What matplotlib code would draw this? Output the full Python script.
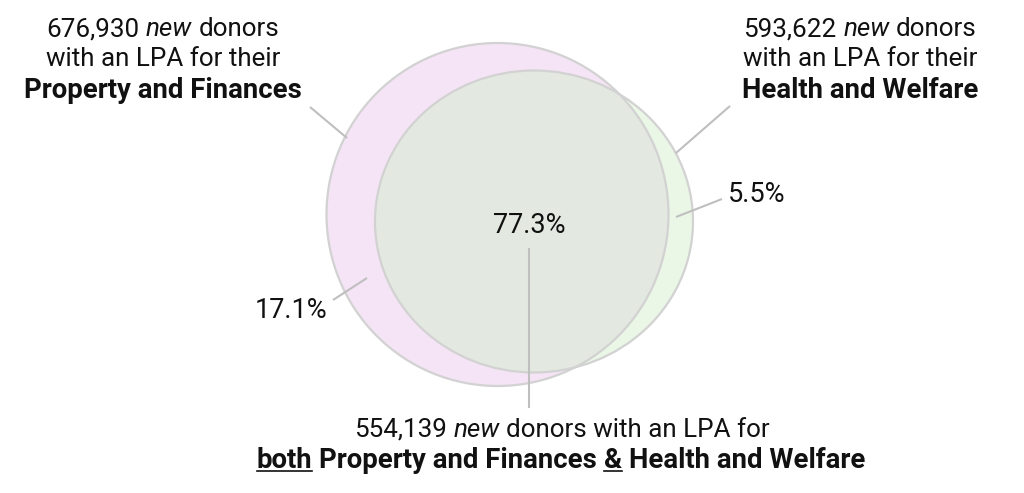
import matplotlib
matplotlib.use('Agg')
import matplotlib.pyplot as plt
from matplotlib.patches import Ellipse

# ---- data ----
set_names = ["Property and Finances", "Health and Welfare"]
set_totals = [676930, 593622]
both_total = 554139
pct_pf_only = 17.1
pct_both = 77.3
pct_hw_only = 5.5

W, H = 1024, 493
fig = plt.figure(figsize=(W / 100, H / 100), dpi=100)
ax = fig.add_axes([0, 0, 1, 1])
ax.set_xlim(0, W)
ax.set_ylim(H, 0)
ax.axis('off')

FONT = ['Roboto', 'DejaVu Sans']
FS_N = 18.7
FS_B = 19.8
FS_P = 19.5
TXT = '#111111'
LEAD = '#bfbfbf'
EDGE = '#d2d2d2'

# ---- circles ----
pf_c, pf_w, pf_h = (497.5, 214.5), 342, 343
hw_c, hw_w, hw_h = (534, 221.5), 318, 302
pf = Ellipse(pf_c, pf_w, pf_h, fc='#f5e4f5', ec='none', zorder=1)
ax.add_patch(pf)
hw = Ellipse(hw_c, hw_w, hw_h, fc='#eaf7e6', ec='none', zorder=2)
ax.add_patch(hw)
ov = Ellipse(hw_c, hw_w, hw_h, fc='#e3e9e0', ec='none', zorder=3)
ax.add_patch(ov)
ov.set_clip_path(pf)
ax.add_patch(Ellipse(pf_c, pf_w, pf_h, fill=False, ec=EDGE, lw=1.6, zorder=4))
ax.add_patch(Ellipse(hw_c, hw_w, hw_h, fill=False, ec=EDGE, lw=1.6, zorder=4))

# ---- leader lines ----
def lead(x0, y0, x1, y1):
    ax.plot([x0, x1], [y0, y1], color=LEAD, lw=1.5, solid_capstyle='butt', zorder=5)

lead(310, 107, 347, 138)
lead(730, 106, 676, 153)
lead(722, 199, 676, 217)
lead(333, 300, 367, 278)
lead(529, 248, 529, 408)

# ---- rich text helper ----
renderer = fig.canvas.get_renderer()

def fs_for(weight):
    return FS_B if weight == 'bold' else FS_N

def measure(s, weight='normal', style='normal'):
    t = ax.text(0, 0, s, fontsize=fs_for(weight), family=FONT, weight=weight, style=style)
    w = t.get_window_extent(renderer).width
    t.remove()
    return w

space_w = {}
for wt in ('normal', 'bold'):
    space_w[wt] = measure('a a', wt) - measure('aa', wt)

def rich_line(tokens, cx, baseline):
    widths = [measure(t, w, s) for (t, w, s, u) in tokens]
    gaps = [space_w[tokens[i][1]] for i in range(len(tokens) - 1)]
    total = sum(widths) + sum(gaps)
    x = cx - total / 2
    for i, (t, w, s, u) in enumerate(tokens):
        ax.text(x, baseline, t, fontsize=fs_for(w), family=FONT, weight=w, style=s,
                color=TXT, ha='left', va='baseline', zorder=6)
        if u:
            ax.plot([x, x + widths[i]], [baseline + 2.5, baseline + 2.5],
                    color=TXT, lw=1.2, zorder=6)
        x += widths[i] + (gaps[i] if i < len(gaps) else 0)

N, B, I = 'normal', 'bold', 'italic'

def set_block(total, name, cx):
    rich_line([(f"{total:,}", N, N, False), ("new", N, I, False), ("donors", N, N, False)], cx, 36.5)
    rich_line([("with an LPA for their", N, N, False)], cx, 66.5)
    rich_line([(name, B, N, False)], cx, 97.5)

set_block(set_totals[0], set_names[0], 163)
set_block(set_totals[1], set_names[1], 860)

rich_line([(f"{both_total:,}", N, N, False), ("new", N, I, False),
           ("donors with an LPA for", N, N, False)], 562, 437)
rich_line([("both", B, N, True), (set_names[0], B, N, False), ("&", B, N, True),
           (set_names[1], B, N, False)], 561, 468.5)

# ---- percentages ----
ax.text(529, 233, f"{pct_both}%", fontsize=FS_P, family=FONT, color=TXT,
        ha='center', va='baseline', zorder=6)
ax.text(728, 202, f"{pct_hw_only}%", fontsize=FS_P, family=FONT, color=TXT,
        ha='left', va='baseline', zorder=6)
ax.text(327, 318, f"{pct_pf_only}%", fontsize=FS_P, family=FONT, color=TXT,
        ha='right', va='baseline', zorder=6)

fig.savefig('out.png', dpi=100)
